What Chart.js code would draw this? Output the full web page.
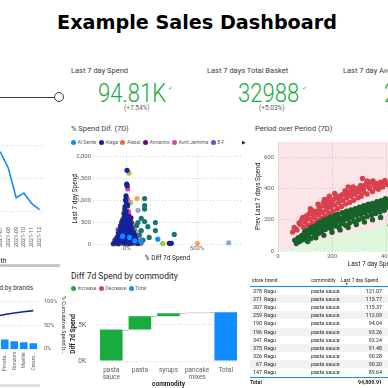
<!DOCTYPE html>
<html>
<head>
<meta charset="utf-8">
<script src="https://cdn.jsdelivr.net/npm/chart.js@4.4.0/dist/chart.umd.min.js"></script>
<style>
  html, body { margin: 0; padding: 0; background: #fff; overflow: hidden; }
  body { width: 388px; height: 388px; position: relative; font-family: Roboto, 'Open Sans', sans-serif; color: #252423; }
  canvas { position: absolute; display: block; }
  .t { position: absolute; white-space: nowrap; line-height: 1; }
  .kpi { font-size: 26px; font-weight: 300; color: #1AAB40; transform: scaleX(0.85); transform-origin: left top; }
  .lbl { font-size: 7.5px; color: #3B3A39; }
  .sub { font-size: 6.5px; color: #605E5C; }
  .legend { position: absolute; display: flex; gap: 2.5px; font-size: 5px; color: #605E5C; white-space: nowrap; line-height: 7px; }
  .legend i { display: inline-block; width: 5px; height: 5px; border-radius: 50%; margin-right: 1.5px; vertical-align: -1px; }
  .row { position: absolute; left: 250px; width: 140px; height: 8.1px; font-size: 5.3px; line-height: 8.1px; color: #252423; }
  .row span { position: absolute; top: 0; }
  .head { font-size: 4.9px; }
</style>
</head>
<body>
<div class="t" style="left:3px;width:388px;text-align:center;top:10.5px;font:bold 19.2px 'DejaVu Sans', sans-serif;color:#000;">Example Sales Dashboard</div>

<!-- slicer -->
<div style="position:absolute;left:0;top:96.5px;width:55px;height:1.5px;background:#3B3A39;"></div>
<div style="position:absolute;left:54px;top:92px;width:10px;height:10px;box-sizing:border-box;border:1.3px solid #3B3A39;border-radius:50%;background:#fff;"></div>

<!-- KPI cards -->
<div class="t lbl" style="left:71px;top:66.8px;">Last 7 day Spend</div>
<div class="t kpi" style="left:98px;top:79.5px;">94.81K</div>
<div class="t" style="left:168px;top:85px;font-size:6px;color:#1AAB40;">✓</div>
<div class="t sub" style="left:124px;top:104.8px;">(+7.54%)</div>
<div class="t lbl" style="left:207px;top:66.8px;">Last 7 days Total Basket</div>
<div class="t kpi" style="left:238px;top:79.5px;">32988</div>
<div class="t" style="left:302px;top:85px;font-size:6px;color:#1AAB40;">✓</div>
<div class="t sub" style="left:259px;top:104.8px;">(+5.03%)</div>
<div class="t lbl" style="left:343px;top:66.8px;">Last 7 day Avg Spend</div>
<div class="t kpi" style="left:384px;top:79.5px;">2</div>

<!-- visual titles -->
<div class="t lbl" style="left:71px;top:125px;">% Spend Dif. (7D)</div>
<div class="t lbl" style="left:255px;top:125px;">Period over Period (7D)</div>
<div class="t" style="right:355px;top:285px;font-size:6.5px;color:#3B3A39;">Spend and % Cumulative Spend by brands</div>
<div class="t" style="left:71px;top:271.5px;font-size:8.5px;color:#252423;">Diff 7d Spend by commodity</div>

<!-- scroll bars -->
<div style="position:absolute;left:0;top:264px;width:60px;height:3px;background:#C8C6C4;border-radius:1px;"></div>
<div style="position:absolute;left:0;top:384px;width:40px;height:3px;background:#E1DFDD;border-radius:1px;"></div>

<canvas id="monthChart" width="124" height="130" style="left:-62px;top:140px;"></canvas>
<canvas id="brandChart" width="129" height="96" style="left:-60px;top:292px;"></canvas>
<canvas id="diffChart" width="184" height="118" style="left:62px;top:148px;"></canvas>
<canvas id="popChart" width="226" height="134" style="left:245px;top:134px;"></canvas>
<canvas id="commodityChart" width="184" height="96" style="left:62px;top:292px;"></canvas>

<div class="legend" id="brandLegend" style="left:71px;top:139px;"></div>
<div class="t" style="left:242px;top:139.5px;font-size:5px;color:#252423;">▶</div>
<div class="legend" id="waterfallLegend" style="left:71px;top:285px;"></div>

<div id="table"></div>

<script>
// ---- month line (left top) ----
const months = ['2021-01', '2021-02', '2021-03', '2021-04', '2021-05', '2021-06', '2021-07', '2021-08', '2021-09', '2021-10', '2021-11', '2021-12'];
const monthSpend = [18.6, 19.1, 18.8, 19.0, 18.9, 18.9, 18.9, 16.5, 12.0, 12.7, 11.1, 10.2];

// ---- spend by brands (pareto, left bottom) ----
const brandLabels = ['Ragu', 'Prego', 'Barilla', 'Classico', "Hunt's", 'Bertolli', 'Private...', 'Ronzoni', 'Mueller', 'Cream...'];
const brandSpend = [21, 12.5, 9, 7, 6, 5.5, 5, 4, 3.5, 3];
const brandCumPct = [22, 35, 45, 52, 58.5, 68, 72.5, 75.5, 78, 80.5];

// ---- % spend dif scatter ----
const brandNames = ['Al Dente', 'Alaga', 'Alessi', 'Annarino', 'Aunt Jemima', 'B F', 'Barilla', 'Bertolli', 'Bionaturae', 'Classico', "Hunt's", 'Mueller', 'Private Label', 'Prego'];
const brandColors = ['#118DFF', '#12239E', '#E66C37', '#6B007B', '#E044A7', '#744EC2', '#D9B300', '#197278', '#D64550', '#A3C43A', '#FFA058', '#8FA6E3', '#8C7536', '#2C3B5C'];
const alDente = [[221, 110], [-30, 180], [20, 150], [100, 60], [58, 70]];
const alaga = [[2, 1687], [0, 1371], [3, 1334], [-5, 1100], [-9, 1005], [-12, 858], [-5, 748], [5, 905], [-8, 680], [10, 640], [-18, 610], [0, 575], [15, 545], [-25, 520], [-6, 490], [22, 470], [-32, 450], [4, 425], [30, 405], [-15, 395], [-40, 370], [12, 360], [38, 340], [-22, 330], [-2, 310], [-48, 300], [25, 290], [-30, 270], [48, 262], [8, 250], [-55, 235], [-12, 225], [32, 212], [-38, 200], [58, 190], [15, 182], [-62, 170], [-20, 160], [42, 150], [-4, 140], [-70, 128], [20, 118], [66, 105], [-45, 98], [-10, 85], [35, 75], [-78, 62], [5, 55], [-28, 45], [52, 35], [-88, 22], [-14, 18], [22, 12], [303, 15], [317, 15], [-60, 8], [80, 10]];
const alessi = [[-50, 30], [40, 60], [-10, 500], [92, 40]];
const annarino = [[-20, 90], [15, 350], [30, 600]];
const auntJemima = [[7, 1261], [5, 1027], [12, 748], [8, 700], [-15, 250], [40, 100]];
const bf = [[-61, 330], [70, 200], [-5, 250]];
const barilla = [[10, 260], [55, 110], [-40, 40]];
const bertolli = [[127, 1041], [127, 880], [127, 799], [103, 587], [80, 491], [127, 513], [204, 491], [150, 396], [103, 308], [204, 308], [338, 220], [115, 88], [90, 200], [160, 150], [70, 420]];
const bionaturae = [[0, 5], [-55, 15]];
const classico = [[16, 1628], [26, 946], [256, 10], [60, 30], [40, 300], [70, 250]];
const hunts = [[73, 1041], [50, 380], [62, 420], [30, 350], [502, 10], [-20, 40], [82, 120]];
const mueller = [[80, 770], [725, 29], [100, 300]];
const privateLabel = [[-72, 30], [-62, 60], [-42, 110], [-20, 190], [-2, 160], [10, 60], [20, 240], [32, 110], [50, 40], [62, 140], [72, 60], [42, 80], [-52, 80], [84, 28], [-32, 18], [102, 20], [16, 180], [46, 200], [26, 300], [-86, 10], [-10, 40], [64, 20], [90, 90], [-24, 130]];
const prego = [[-3, 960], [6, 870], [-14, 790], [2, 720], [-20, 700], [14, 660], [-10, 620], [6, 600], [-28, 560], [26, 560], [-2, 540], [-36, 500], [16, 500], [36, 480], [-18, 460], [0, 450], [-44, 420], [22, 410], [-8, 360], [44, 380], [-26, 350], [6, 330], [-52, 320], [28, 320], [-14, 290], [55, 300], [-36, 280], [2, 270], [-60, 260], [38, 240], [-22, 240], [18, 210], [-46, 215], [64, 220], [-6, 200], [-30, 180], [28, 170], [-68, 150], [8, 160], [50, 130], [-50, 120], [-16, 110], [72, 120], [26, 95], [-84, 90], [-36, 70], [60, 60], [0, 30], [-70, 40], [40, 20], [-96, 5], [12, 5]];
const brandPoints = [alDente, alaga, alessi, annarino, auntJemima, bf, barilla, bertolli, bionaturae, classico, hunts, mueller, privateLabel, prego];

// ---- period over period scatter: [last 7 day spend, prev last 7 days spend] ----
const decreasePts = [[54, 121], [60, 150], [70, 135], [82, 169], [88, 200], [95, 150], [100, 185], [105, 225], [112, 165], [118, 205], [122, 240], [128, 180], [133, 215], [140, 255], [145, 195], [150, 232], [155, 270], [160, 210], [165, 248], [170, 290], [175, 225], [180, 262], [186, 305], [190, 240], [195, 280], [200, 320], [204, 255], [210, 295], [214, 340], [220, 270], [225, 310], [230, 350], [235, 285], [240, 325], [245, 362], [250, 300], [255, 340], [260, 375], [265, 310], [270, 352], [276, 390], [280, 325], [285, 365], [292, 400], [296, 340], [300, 378], [313, 464], [308, 350], [316, 395], [322, 420], [330, 365], [336, 410], [342, 440], [350, 380], [356, 420], [365, 432], [372, 395], [380, 440], [388, 410], [396, 452], [405, 425], [415, 445], [425, 415], [148, 300], [190, 350], [120, 270], [260, 410], [210, 368], [330, 448], [172, 330],
  [66, 140], [78, 180], [92, 215], [108, 205], [116, 240], [126, 260], [138, 235], [152, 285], [158, 250], [168, 310], [178, 285], [184, 330], [198, 300], [206, 330], [218, 350], [228, 330], [238, 360], [248, 385], [258, 355], [268, 380], [278, 410], [288, 380], [298, 400], [306, 420], [318, 375], [328, 430], [340, 400], [352, 448], [362, 405], [376, 420], [392, 430]];
const increasePts = [[62, 69], [68, 48], [75, 85], [80, 60], [88, 100], [92, 72], [98, 118], [104, 88], [108, 130], [112, 100], [118, 142], [122, 80], [126, 118], [132, 155], [136, 100], [140, 132], [145, 170], [150, 112], [154, 148], [158, 185], [162, 125], [166, 160], [170, 198], [175, 138], [178, 172], [182, 205], [186, 150], [190, 185], [195, 218], [198, 140], [202, 170], [206, 200], [210, 228], [214, 160], [218, 190], [222, 235], [226, 150], [230, 210], [234, 175], [238, 245], [242, 195], [246, 225], [250, 165], [254, 255], [258, 205], [262, 235], [266, 180], [270, 262], [274, 215], [278, 245], [282, 190], [286, 270], [290, 228], [294, 255], [298, 200], [302, 280], [306, 235], [310, 262], [314, 210], [318, 290], [322, 245], [326, 272], [330, 220], [334, 300], [338, 255], [342, 280], [346, 230], [350, 305], [354, 262], [358, 290], [362, 240], [366, 315], [370, 270], [374, 298], [378, 250], [382, 322], [386, 280], [390, 305], [394, 260], [398, 335], [404, 290], [410, 318], [416, 165], [422, 300], [430, 335], [440, 280], [110, 60], [140, 85], [170, 100], [200, 120], [230, 135], [260, 150], [290, 170], [320, 185], [350, 200], [380, 215],
  [72, 70], [85, 78], [96, 95], [102, 125], [115, 115], [124, 150], [134, 128], [144, 145], [152, 180], [164, 142], [172, 175], [184, 168], [192, 205], [204, 188], [212, 175], [224, 210], [232, 195], [244, 240], [252, 210], [264, 250], [272, 228], [284, 240], [292, 265], [300, 250], [312, 275], [324, 258], [332, 285], [344, 268], [352, 290], [364, 280], [372, 310], [384, 300], [392, 320], [400, 310], [408, 280], [418, 330], [426, 260], [436, 310]];
const shadeRatio = 0.42;

// ---- waterfall ----
const commodities = [['pasta', 'sauce'], 'pasta', 'syrups', ['pancake', 'mixes'], 'Total'];
const commodityDiff = [4.36, 1.85, 0.40, 0.15];

// ---- table ----
const stores = [378, 371, 307, 259, 190, 196, 341, 375, 326, 67, 147];
const tableBrand = ['Ragu', 'Ragu', 'Ragu', 'Ragu', 'Ragu', 'Ragu', 'Ragu', 'Ragu', 'Ragu', 'Ragu', 'Ragu'];
const tableCommodity = ['pasta sauce', 'pasta sauce', 'pasta sauce', 'pasta sauce', 'pasta sauce', 'pasta sauce', 'pasta sauce', 'pasta sauce', 'pasta sauce', 'pasta sauce', 'pasta sauce'];
const storeSpend = [121.07, 115.77, 115.37, 112.09, 94.04, 93.26, 92.24, 91.48, 90.28, 90.20, 89.64];
const totalSpend = '94,809.91';

Chart.defaults.font.family = "Roboto, 'Open Sans', sans-serif";
Chart.defaults.animation = false;
Chart.defaults.plugins.legend.display = false;
Chart.defaults.plugins.tooltip.enabled = false;

const tickGray = '#605E5C';
const gridGray = '#D2D0CE';
const dotted = { display: false, dash: [1, 2] };

new Chart(document.getElementById('monthChart'), {
  type: 'line',
  data: { labels: months, datasets: [{ data: monthSpend, borderColor: '#118DFF', borderWidth: 1.6, pointRadius: 0, tension: 0 }] },
  options: {
    responsive: false,
    layout: { padding: { left: 3.4, right: 3, top: 5, bottom: 0 } },
    scales: {
      x: {
        offset: true,
        grid: { display: false, drawTicks: false },
        border: { display: false },
        ticks: { autoSkip: false, minRotation: 90, maxRotation: 90, padding: 16, font: { size: 5.5 }, color: tickGray },
        title: { display: true, text: 'Month', font: { size: 7 }, color: '#252423', padding: { top: 0, bottom: 5 } },
        afterFit: (s) => { s.height = 59; },
      },
      y: {
        min: 10, max: 20,
        ticks: { display: false, stepSize: 5 },
        grid: { color: gridGray, drawTicks: false },
        border: dotted,
        afterFit: (s) => { s.width = 0; },
      },
    },
  },
});

new Chart(document.getElementById('brandChart'), {
  type: 'bar',
  data: {
    labels: brandLabels,
    datasets: [
      { type: 'line', data: brandCumPct, yAxisID: 'y1', borderColor: '#12239E', borderWidth: 1.6, pointRadius: 0, order: 0 },
      { type: 'bar', data: brandSpend, yAxisID: 'y', backgroundColor: '#118DFF', barPercentage: 0.8, categoryPercentage: 1, order: 1 },
    ],
  },
  options: {
    responsive: false,
    layout: { padding: { left: 3, right: 2, top: 7, bottom: 0 } },
    scales: {
      x: {
        grid: { display: false, drawTicks: false },
        border: { display: false },
        ticks: { autoSkip: false, minRotation: 90, maxRotation: 90, padding: 3, font: { size: 5 }, color: tickGray },
        afterFit: (s) => { s.height = 39; },
      },
      y: { position: 'left', min: 0, max: 25, display: false },
      y1: {
        position: 'right', min: 0, max: 100,
        ticks: { stepSize: 50, callback: (v) => v + '%', font: { size: 5.5 }, color: tickGray, padding: 6 },
        grid: { color: gridGray, drawTicks: false },
        border: dotted,
        title: { display: true, text: '% Cumulative Spend b...', font: { size: 5.5 }, color: '#252423', padding: { top: 0, bottom: 0 } },
        afterFit: (s) => { s.width = 29; },
      },
    },
  },
});

new Chart(document.getElementById('diffChart'), {
  type: 'scatter',
  data: {
    datasets: brandPoints.map((pts, i) => ({
      label: brandNames[i],
      data: pts.map(([x, y]) => ({ x, y })),
      backgroundColor: brandColors[i],
      borderWidth: 0,
      pointRadius: 2.6,
      clip: false,
    })),
  },
  options: {
    responsive: false,
    layout: { padding: { left: 0, right: 3, top: 2, bottom: 0 } },
    scales: {
      x: {
        min: -240, max: 820,
        afterBuildTicks: (s) => { s.ticks = [0, 500].map((v) => ({ value: v })); },
        ticks: { callback: (v) => v + '%', font: { size: 6 }, color: tickGray, padding: 1 },
        grid: { color: gridGray, drawTicks: false },
        border: dotted,
        title: { display: true, text: '% Diff 7d Spend', font: { size: 6.5 }, color: '#252423', padding: { top: 0, bottom: 4 } },
        afterFit: (s) => { s.height = 22; },
      },
      y: {
        min: 0, max: 2070,
        afterBuildTicks: (s) => { s.ticks = [0, 500, 1000, 1500, 2000].map((v) => ({ value: v })); },
        ticks: { callback: (v) => v.toLocaleString('en-US'), font: { size: 6 }, color: tickGray, padding: 2 },
        grid: { color: gridGray, drawTicks: false },
        border: dotted,
        title: { display: true, text: 'Last 7 day Spend', font: { size: 6.5 }, color: '#252423', padding: { top: 9, bottom: 0 } },
        afterFit: (s) => { s.width = 31; },
      },
    },
  },
});

const popMax = 700;
const shadeEdge = [{ x: 0, y: 0 }, { x: popMax, y: popMax * shadeRatio }];
new Chart(document.getElementById('popChart'), {
  type: 'scatter',
  data: {
    datasets: [
      { label: 'Decrease', data: decreasePts.map(([x, y]) => ({ x, y })), backgroundColor: '#D9414E', borderWidth: 0, pointRadius: 2.7, order: 1 },
      { label: 'Increase', data: increasePts.map(([x, y]) => ({ x, y })), backgroundColor: '#17622B', borderWidth: 0, pointRadius: 2.7, order: 0 },
      { type: 'line', data: shadeEdge, borderWidth: 0, pointRadius: 0, fill: 'start', backgroundColor: 'rgba(60,200,40,0.17)', order: 10 },
      { type: 'line', data: shadeEdge, borderWidth: 0, pointRadius: 0, fill: 'end', backgroundColor: 'rgba(230,40,60,0.12)', order: 11 },
    ],
  },
  options: {
    responsive: false,
    layout: { padding: { left: 0, right: 0, top: 5, bottom: 0 } },
    scales: {
      x: {
        type: 'linear', min: 0, max: popMax,
        afterBuildTicks: (s) => { s.ticks = [0, 200, 400, 600].map((v) => ({ value: v })); },
        ticks: { font: { size: 6 }, color: tickGray, padding: 2 },
        grid: { color: gridGray, drawTicks: false },
        border: dotted,
        title: { display: true, text: 'Last 7 day Spend', font: { size: 6.5 }, color: '#252423', padding: { top: 0, bottom: 0 } },
        afterFit: (s) => { s.height = 17; },
      },
      y: {
        min: 0, max: popMax,
        afterBuildTicks: (s) => { s.ticks = [0, 200, 400, 600].map((v) => ({ value: v })); },
        ticks: { font: { size: 6 }, color: tickGray, padding: 4 },
        grid: { color: gridGray, drawTicks: false },
        border: dotted,
        title: { display: true, text: 'Prev Last 7 days Spend', font: { size: 6.5 }, color: '#252423', padding: { top: 9, bottom: 0 } },
        afterFit: (s) => { s.width = 33; },
      },
    },
  },
});

// waterfall bars from the diffs
let run = 0;
const stepEnds = [];
const waterfallBars = commodityDiff.map((d) => { const s = run; run += d; stepEnds.push(run); return [s, run]; });
waterfallBars.push([0, run]);
const waterfallColors = ['#1AAB40', '#1AAB40', '#1AAB40', '#D9D9D9', '#118DFF'];

const connectors = {
  id: 'connectors',
  afterDatasetsDraw(chart) {
    const bars = chart.getDatasetMeta(0).data;
    const y = chart.scales.y;
    const ctx = chart.ctx;
    ctx.save();
    ctx.strokeStyle = '#C8C6C4';
    ctx.lineWidth = 1;
    for (let i = 0; i < bars.length - 1; i++) {
      const yy = Math.round(y.getPixelForValue(stepEnds[i])) + 0.5;
      ctx.beginPath();
      ctx.moveTo(bars[i].x + bars[i].width / 2, yy);
      ctx.lineTo(bars[i + 1].x - bars[i + 1].width / 2, yy);
      ctx.stroke();
    }
    ctx.restore();
  },
};

new Chart(document.getElementById('commodityChart'), {
  type: 'bar',
  data: { labels: commodities, datasets: [{ data: waterfallBars, backgroundColor: waterfallColors, barPercentage: 0.79, categoryPercentage: 1 }] },
  plugins: [connectors],
  options: {
    responsive: false,
    layout: { padding: { left: 0, right: 6, top: 10, bottom: 0 } },
    scales: {
      x: {
        grid: { display: false, drawTicks: false },
        border: { display: false },
        ticks: { autoSkip: false, maxRotation: 0, font: { size: 6.5, lineHeight: 1.1 }, color: tickGray, padding: 6 },
        title: { display: true, text: 'commodity', font: { size: 6.5, weight: 'bold' }, color: '#252423', padding: { top: 0, bottom: 0 } },
        afterFit: (s) => { s.height = 27; },
      },
      y: {
        min: 0, max: 7.5,
        afterBuildTicks: (s) => { s.ticks = [0, 5].map((v) => ({ value: v })); },
        ticks: { callback: (v) => v + 'K', font: { size: 6.5 }, color: tickGray, padding: 11 },
        grid: { color: gridGray, drawTicks: false },
        border: dotted,
        title: { display: true, text: 'Diff 7d Spend', font: { size: 6.5, weight: 'bold' }, color: '#252423', padding: { top: 7, bottom: 0 } },
        afterFit: (s) => { s.width = 35; },
      },
    },
  },
});

// legends
const brandLegend = document.getElementById('brandLegend');
brandNames.slice(0, 6).forEach((n, i) => {
  brandLegend.insertAdjacentHTML('beforeend', `<span><i style="background:${brandColors[i]}"></i>${n}</span>`);
});
const wfLegend = document.getElementById('waterfallLegend');
[['Increase', '#1AAB40'], ['Decrease', '#D64550'], ['Total', '#118DFF']].forEach(([n, c]) => {
  wfLegend.insertAdjacentHTML('beforeend', `<span><i style="background:${c}"></i>${n}</span>`);
});

// table
const table = document.getElementById('table');
const rowH = 8.1;
let html = `<div class="row head" style="top:274.5px;height:11px;line-height:11px;border-bottom:1px solid #118DFF;">
  <span style="left:2px;">store</span><span style="left:15px;">brand</span><span style="left:61px;">commodity</span><span style="left:91px;">Last 7 day Spend</span>
  <span style="left:95px;top:4.5px;font-size:3.5px;">▼</span></div>`;
stores.forEach((s, i) => {
  const bg = i % 2 === 1 ? 'background:#F3F2F1;' : '';
  html += `<div class="row" style="top:${287 + i * rowH}px;${bg}">
    <span style="left:0;width:12px;text-align:right;">${s}</span>
    <span style="left:14px;">${tableBrand[i]}</span>
    <span style="left:61px;">${tableCommodity[i]}</span>
    <span style="left:90px;width:42px;text-align:right;">${storeSpend[i].toFixed(2)}</span></div>`;
});
html += `<div class="row" style="top:376.5px;border-top:1px solid #118DFF;font-weight:bold;height:9px;line-height:9px;">
  <span style="left:0;">Total</span><span style="left:90px;width:42px;text-align:right;">${totalSpend}</span></div>`;
table.innerHTML = html;
</script>
</body>
</html>
